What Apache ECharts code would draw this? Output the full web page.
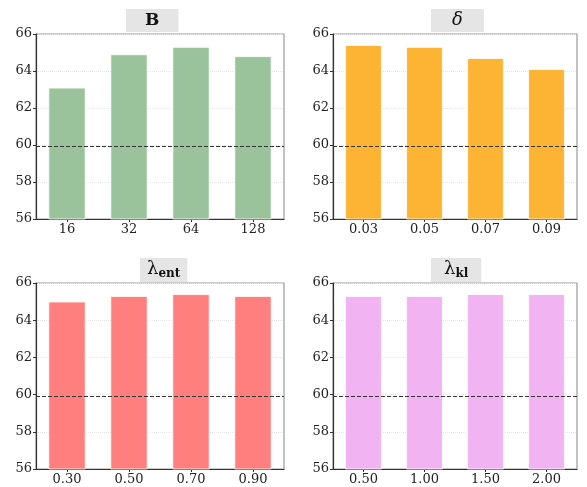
<!DOCTYPE html>
<html><head><meta charset="utf-8">
<script src="https://cdn.jsdelivr.net/npm/echarts@6/dist/echarts.min.js"></script>
<style>html,body{margin:0;padding:0;background:#fff}#c{width:587px;height:487px}</style>
</head><body><div id="c"></div>
<script>
const catsB = ['16','32','64','128'];
const valsB = [63.1, 64.9, 65.3, 64.8];
const catsDelta = ['0.03','0.05','0.07','0.09'];
const valsDelta = [65.4, 65.3, 64.7, 64.1];
const catsEnt = ['0.30','0.50','0.70','0.90'];
const valsEnt = [65.0, 65.3, 65.4, 65.3];
const catsKl = ['0.50','1.00','1.50','2.00'];
const valsKl = [65.3, 65.3, 65.4, 65.4];
const baseline = 59.93;
const yTicks = [56, 58, 60, 62, 64, 66];

const font = 'DejaVu Serif';
const panels = [
  {cats: catsB, vals: valsB, color: '#9bc39b', grid: {left: 36, top: 34, width: 248, height: 185}},
  {cats: catsDelta, vals: valsDelta, color: '#feb433', grid: {left: 333, top: 34, width: 244, height: 185}},
  {cats: catsEnt, vals: valsEnt, color: '#ff7f7f', grid: {left: 36, top: 283, width: 248, height: 186}},
  {cats: catsKl, vals: valsKl, color: '#f2b3f2', grid: {left: 333, top: 283, width: 244, height: 186}}
];

const grids = [], xAxes = [], yAxes = [], series = [];
panels.forEach((p, i) => {
  grids.push(Object.assign({show: true, borderColor: '#9a9a9a', borderWidth: 1.2, backgroundColor: '#fff'}, p.grid));
  xAxes.push({type: 'category', gridIndex: i, data: p.cats,
    axisLine: {show: true, lineStyle: {color: '#333', width: 1.2}},
    axisTick: {show: true, alignWithLabel: true, length: 3, lineStyle: {color: '#333'}},
    axisLabel: {color: '#222', fontFamily: font, fontSize: 13, margin: 4},
    splitLine: {show: false}});
  yAxes.push({type: 'value', gridIndex: i, min: yTicks[0], max: yTicks[yTicks.length-1], interval: 2,
    axisLine: {show: true, lineStyle: {color: '#333', width: 1.2}},
    axisTick: {show: true, length: 3, lineStyle: {color: '#333'}},
    axisLabel: {color: '#222', fontFamily: font, fontSize: 13, margin: 4},
    splitLine: {show: true, lineStyle: {color: '#e6e6e6', type: 'dotted', width: 1}}});
  series.push({type: 'bar', xAxisIndex: i, yAxisIndex: i, data: p.vals, barWidth: '60%',
    itemStyle: {color: p.color, borderColor: '#ffffff', borderWidth: 0.8},
    markLine: {silent: true, symbol: 'none', label: {show: false},
      lineStyle: {color: '#333', type: [4, 2], width: 1.1},
      data: [{yAxis: baseline}]}});
});

const titleBase = {backgroundColor: '#e5e5e5', top: 9};
const lamRich = {
  l: {fontFamily: font, fontSize: 18, fontWeight: 'normal', color: '#111', lineHeight: 19, verticalAlign: 'top'},
  s: {fontFamily: font, fontSize: 12, fontWeight: 'bold', color: '#111', lineHeight: 12, padding: [8, 0, 0, 0], verticalAlign: 'top'}
};
const titles = [
  Object.assign({}, titleBase, {left: 126, padding: [2, 19, 2, 19], text: 'B',
    textStyle: {fontFamily: font, fontWeight: 'bold', fontSize: 17, color: '#111', lineHeight: 19}}),
  Object.assign({}, titleBase, {left: 431, padding: [2, 21, 2, 21], text: 'δ',
    textStyle: {fontFamily: font, fontStyle: 'italic', fontWeight: 'normal', fontSize: 18, color: '#111', lineHeight: 19}}),
  Object.assign({}, titleBase, {left: 140, top: 258, padding: [2, 7, 2, 7], text: '{l|λ}{s|ent}',
    textStyle: {fontWeight: 'normal', rich: lamRich}}),
  Object.assign({}, titleBase, {left: 431, top: 258, padding: [2, 13, 2, 13], text: '{l|λ}{s|kl}',
    textStyle: {fontWeight: 'normal', rich: lamRich}})
];

const chart = echarts.init(document.getElementById('c'), null, {renderer: 'canvas'});
chart.setOption({animation: false, backgroundColor: '#fff', title: titles, grid: grids, xAxis: xAxes, yAxis: yAxes, series: series});
</script></body></html>
